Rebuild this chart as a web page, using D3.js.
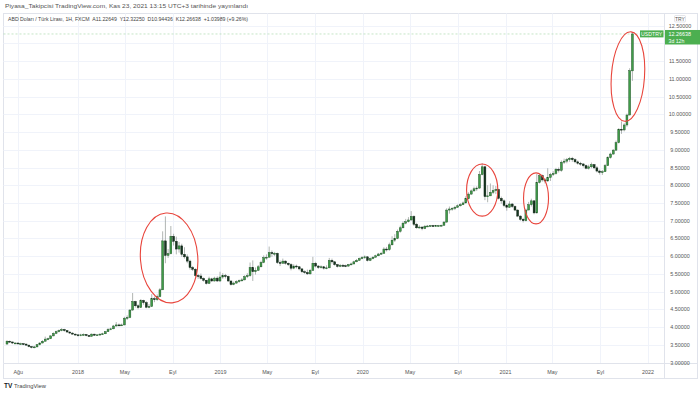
<!DOCTYPE html>
<html><head><meta charset="utf-8">
<script src="https://cdn.jsdelivr.net/npm/d3@7/dist/d3.min.js"></script>
<style>html,body{margin:0;padding:0;background:#fff;}svg{display:block;font-family:"Liberation Sans",Arial,sans-serif;}</style>
</head><body><svg id="c" width="700" height="394"></svg>
<script>
// ---- data (weekly candles, USD/TRY) ----
const startWeek = "2017-07-03";
const firstOpen = 3.52;
const lastOpen = 11.22649;
const closes = [3.60,3.58,3.55,3.55,3.53,3.53,3.52,3.49,3.45,3.43,3.44,3.50,3.55,3.60,3.66,3.67,3.75,3.82,3.87,3.90,3.93,3.90,3.86,3.83,3.80,3.78,
3.76,3.78,3.79,3.76,3.74,3.80,3.77,3.78,3.80,3.81,3.87,3.93,3.95,4.03,4.06,4.05,4.06,4.25,4.27,4.48,4.72,4.60,4.55,4.75,4.69,4.56,4.58,4.80,4.77,4.86,5.05,6.43,6.02,6.07,6.56,6.42,6.20,6.29,6.05,5.98,5.86,5.68,5.63,5.45,5.44,5.37,5.32,5.23,5.36,5.30,5.38,5.30,5.41,
5.45,5.43,5.30,5.20,5.24,5.28,5.31,5.33,5.42,5.45,5.68,5.56,5.60,5.70,5.82,5.96,5.97,6.10,6.07,6.08,5.82,5.80,5.86,5.80,5.76,5.66,5.72,5.70,5.64,5.56,5.54,5.50,5.60,5.80,5.72,5.68,5.70,5.66,5.67,5.88,5.84,5.76,5.71,5.74,5.73,5.72,5.76,5.78,5.84,5.88,5.93,5.96,
5.98,5.88,5.93,5.97,6.01,6.06,6.08,6.20,6.18,6.32,6.45,6.50,6.70,6.80,6.93,6.97,7.02,7.12,6.90,6.80,6.82,6.78,6.84,6.85,6.86,6.85,6.86,6.86,6.87,6.96,7.30,7.33,7.35,7.38,7.42,7.45,7.50,7.62,7.75,7.84,7.90,7.92,8.30,8.52,7.68,7.70,7.80,7.85,7.88,7.63,7.56,7.43,
7.38,7.47,7.40,7.30,7.13,7.04,7.00,7.30,7.45,7.56,7.22,8.08,8.27,8.15,8.12,8.22,8.30,8.33,8.45,8.42,8.65,8.68,8.72,8.76,8.72,8.66,8.62,8.60,8.55,8.48,8.52,8.58,8.49,8.40,8.36,8.38,8.55,8.78,8.88,8.99,9.20,9.58,9.56,9.70,9.98,11.23,12.26638];
const highs = [3.63,3.62,3.58,3.57,3.56,3.56,3.55,3.53,3.50,3.46,3.47,3.52,3.57,3.63,3.73,3.70,3.77,3.85,3.90,3.93,3.97,3.95,3.91,3.88,3.85,3.82,
3.80,3.81,3.82,3.80,3.78,3.82,3.81,3.80,3.82,3.84,3.89,3.97,3.98,4.06,4.14,4.10,4.10,4.29,4.33,4.50,4.96,4.74,4.64,4.79,4.77,4.73,4.65,4.93,4.86,4.92,5.10,6.70,7.12,6.20,6.85,6.63,6.55,6.40,6.35,6.25,6.05,5.90,5.72,5.66,5.50,5.51,5.40,5.33,5.42,5.39,5.42,5.43,5.56,
5.52,5.50,5.45,5.30,5.28,5.32,5.34,5.38,5.46,5.52,5.82,5.88,5.68,5.75,5.87,6.02,6.05,6.27,6.16,6.12,6.10,5.88,5.93,5.88,5.82,5.80,5.77,5.76,5.72,5.66,5.60,5.62,5.64,5.98,5.84,5.75,5.74,5.72,5.74,5.95,5.93,5.86,5.78,5.78,5.78,5.76,5.78,5.82,5.87,5.92,5.96,6.00,
6.02,6.00,5.96,6.00,6.04,6.09,6.12,6.25,6.26,6.38,6.56,6.62,6.75,6.86,6.98,7.05,7.10,7.27,7.15,6.94,6.87,6.84,6.88,6.88,6.88,6.88,6.88,6.88,6.89,6.99,7.35,7.40,7.38,7.42,7.46,7.50,7.54,7.69,7.80,7.88,7.96,7.97,8.40,8.62,8.55,8.00,8.05,8.00,7.98,7.90,7.68,7.60,
7.48,7.55,7.50,7.43,7.32,7.15,7.08,7.34,7.53,7.62,7.58,8.32,8.33,8.30,8.20,8.48,8.35,8.40,8.49,8.50,8.70,8.75,8.77,8.80,8.80,8.76,8.70,8.66,8.62,8.58,8.58,8.64,8.60,8.54,8.44,8.43,8.60,8.82,8.92,9.02,9.26,9.61,9.80,9.75,10.02,11.30,12.32250];
const lows = [3.51,3.55,3.52,3.52,3.51,3.51,3.49,3.47,3.43,3.40,3.40,3.43,3.48,3.54,3.60,3.63,3.66,3.74,3.80,3.85,3.88,3.87,3.84,3.81,3.79,3.76,
3.73,3.74,3.76,3.74,3.72,3.73,3.75,3.75,3.76,3.78,3.80,3.86,3.91,3.94,4.01,4.02,4.03,4.05,4.20,4.25,4.46,4.55,4.50,4.54,4.63,4.53,4.53,4.57,4.70,4.74,4.84,5.05,5.80,5.95,6.05,6.30,6.05,6.10,5.98,5.93,5.80,5.62,5.58,5.40,5.36,5.34,5.28,5.20,5.22,5.27,5.28,5.27,5.27,
5.36,5.37,5.27,5.17,5.18,5.22,5.25,5.28,5.32,5.38,5.42,5.30,5.48,5.58,5.68,5.80,5.90,5.97,5.98,6.00,5.78,5.72,5.79,5.76,5.72,5.60,5.63,5.65,5.60,5.52,5.50,5.47,5.48,5.58,5.68,5.64,5.65,5.62,5.63,5.66,5.79,5.73,5.68,5.69,5.70,5.69,5.70,5.74,5.77,5.83,5.87,5.91,
5.92,5.85,5.86,5.91,5.96,6.00,6.04,6.07,6.13,6.15,6.30,6.40,6.48,6.66,6.78,6.90,6.95,7.00,6.85,6.77,6.78,6.73,6.76,6.82,6.83,6.83,6.84,6.84,6.84,6.86,6.95,7.20,7.28,7.30,7.36,7.40,7.44,7.49,7.60,7.73,7.82,7.84,7.90,8.28,7.58,7.52,7.70,7.75,7.75,7.60,7.48,7.38,
7.28,7.36,7.36,7.27,7.10,7.00,6.95,6.98,7.30,7.40,7.18,7.20,8.05,8.10,8.05,8.10,8.12,8.26,8.30,8.36,8.38,8.60,8.62,8.66,8.66,8.62,8.58,8.55,8.50,8.45,8.44,8.48,8.45,8.36,8.30,8.29,8.40,8.55,8.75,8.86,8.97,9.18,9.45,9.52,9.65,9.98,10.94436];
const yTicks = [3,3.5,4,4.5,5,5.5,6,6.5,7,7.5,8,8.5,9,9.5,10,10.5,11,11.5,12,12.5];
const xTickDates = ["2017-08-01","2018-01-01","2018-05-01","2018-09-01","2019-01-01","2019-05-01","2019-09-01","2020-01-01","2020-05-01","2020-09-01","2021-01-01","2021-05-01","2021-09-01","2022-01-01"];
const xTickLabels = ["Ağu","2018","May","Eyl","2019","May","Eyl","2020","May","Eyl","2021","May","Eyl","2022"];
// hand-drawn highlight ellipses: [from date, to date, low price, high price]
const marks = [
  ["2018-06-10","2018-11-04",4.68,7.22],
  ["2020-09-23","2020-12-12",7.13,8.60],
  ["2021-02-16","2021-04-21",6.91,8.35],
  ["2021-09-29","2021-12-23",9.80,12.33]
];
const headerText = "Piyasa_Takipcisi TradingView.com, Kas 23, 2021 13:15 UTC+3 tarihinde yayınlandı";
const legendText = "ABD Doları / Türk Lirası, 1H, FXCM  A11.22649  Y12.32250  D10.94436  K12.26638  +1.03989 (+9.26%)";
const symbolName = "USDTRY";
const lastPriceText = "12.26638";
const countdownText = "3d 12h";
const currencyText = "TRY";

// ---- layout ----
const svg = d3.select("#c");
const L = 3.5, T = 13.5, R = 664.5, B = 363.5, BB = 378.5, RR = 697.5;
const parse = d3.timeParse("%Y-%m-%d");
const x = d3.scaleTime().domain([parse("2018-01-01"), parse("2022-01-01")]).range([78, 648]);
const y = d3.scaleLinear().domain([3, 12.5]).range([362.5, 25.7]);

const s0 = parse(startWeek);
const candles = closes.map((c, i) => ({
  d: d3.timeWeek.offset(s0, i),
  o: i === 0 ? firstOpen : (i === closes.length - 1 ? lastOpen : closes[i - 1]),
  h: highs[i], l: lows[i], c: c
}));

// header
svg.append("text").attr("x", 5).attr("y", 8).attr("font-size", 6.2).attr("fill", "#555")
  .attr("textLength", 243).attr("lengthAdjust", "spacingAndGlyphs").text(headerText);

// frame
svg.append("rect").attr("x", L).attr("y", T).attr("width", RR - L).attr("height", BB - T)
  .attr("fill", "none").attr("stroke", "#e0e3eb").attr("stroke-width", 1);

const grid = svg.append("g");
yTicks.forEach(v => {
  grid.append("line").attr("x1", L).attr("x2", R).attr("y1", Math.round(y(v)) + 0.5).attr("y2", Math.round(y(v)) + 0.5)
    .attr("stroke", "#f0f3fa").attr("stroke-width", 1);
});
xTickDates.forEach(s => {
  const xx = Math.round(x(parse(s))) + 0.5;
  grid.append("line").attr("x1", xx).attr("x2", xx).attr("y1", T).attr("y2", B).attr("stroke", "#f0f3fa").attr("stroke-width", 1);
});

// axis separators
svg.append("line").attr("x1", R).attr("x2", R).attr("y1", T).attr("y2", BB).attr("stroke", "#e0e3eb");
svg.append("line").attr("x1", L).attr("x2", RR).attr("y1", B).attr("y2", B).attr("stroke", "#e0e3eb");

// legend
svg.append("text").attr("x", 8).attr("y", 20.5).attr("font-size", 5.8).attr("fill", "#444").attr("xml:space","preserve")
  .attr("textLength", 240).attr("lengthAdjust", "spacingAndGlyphs").text(legendText);

// last price dashed line
svg.append("line").attr("x1", L).attr("x2", R).attr("y1", y(closes[closes.length-1])).attr("y2", y(closes[closes.length-1]))
  .attr("stroke", "#9ed3a0").attr("stroke-width", 0.6).attr("stroke-dasharray", "2,2");

// candles
const bw = 1.9;
const cg = svg.append("g");
candles.forEach(k => {
  const cx = x(k.d);
  const up = k.c >= k.o;
  cg.append("line").attr("x1", cx).attr("x2", cx).attr("y1", y(k.h)).attr("y2", y(k.l))
    .attr("stroke", "#8f9692").attr("stroke-width", 0.7);
  const y1 = Math.min(y(k.o), y(k.c)), hgt = Math.max(0.9, Math.abs(y(k.o) - y(k.c)));
  cg.append("rect").attr("x", cx - bw / 2).attr("y", y1).attr("width", bw).attr("height", hgt)
    .attr("fill", up ? "#3f9c48" : "#16351f").attr("stroke", up ? "#1d4f25" : "#0e2314").attr("stroke-width", 0.45);
});

// red highlight ellipses
const eg = svg.append("g");
marks.forEach((m, i) => {
  const x0 = x(parse(m[0])), x1 = x(parse(m[1]));
  const ya = y(m[3]), yb = y(m[2]);
  eg.append("ellipse").attr("cx", (x0 + x1) / 2).attr("cy", (ya + yb) / 2)
    .attr("rx", (x1 - x0) / 2).attr("ry", (yb - ya) / 2)
    .attr("fill", "none").attr("stroke", "#e8453c").attr("stroke-width", 1.1)
    .attr("transform", `rotate(${i === 0 ? -4 : (i === 3 ? 4 : 0)},${(x0 + x1) / 2},${(ya + yb) / 2})`);
});

// y axis labels
yTicks.forEach(v => {
  if (v === 12) return; // hidden behind price label
  svg.append("text").attr("x", 680).attr("y", y(v) + 2).attr("text-anchor", "middle").attr("font-size", 5.4).attr("fill", "#555")
    .text(d3.format(".5f")(v));
});
// currency box
svg.append("rect").attr("x", 674.5).attr("y", 15.5).attr("width", 11).attr("height", 6.5).attr("fill", "#fff").attr("stroke", "#d1d4dc").attr("stroke-width", 0.6).attr("rx", 1);
svg.append("text").attr("x", 680).attr("y", 20.7).attr("text-anchor", "middle").attr("font-size", 5).attr("fill", "#555").text(currencyText);

// symbol + price labels
const ly = y(closes[closes.length-1]);
svg.append("rect").attr("x", 640).attr("y", ly - 3.6).attr("width", 23.5).attr("height", 7).attr("fill", "#4caf50");
svg.append("text").attr("x", 651.7).attr("y", ly + 1.8).attr("text-anchor", "middle").attr("font-size", 5.2).attr("fill", "#fff").text(symbolName);
svg.append("rect").attr("x", 665).attr("y", ly - 4).attr("width", 35).attr("height", 14.5).attr("fill", "#4caf50");
svg.append("text").attr("x", 668.5).attr("y", ly + 1.8).attr("font-size", 5.4).attr("fill", "#fff").text(lastPriceText);
svg.append("text").attr("x", 668.5).attr("y", ly + 8.6).attr("font-size", 5.2).attr("fill", "#fff").text(countdownText);

// x axis labels
xTickDates.forEach((s, i) => {
  svg.append("text").attr("x", x(parse(s))).attr("y", 374).attr("text-anchor", "middle").attr("font-size", 5.4).attr("fill", "#555").text(xTickLabels[i]);
});

// TradingView footer
svg.append("text").attr("x", 4).attr("y", 388).attr("font-size", 6.5).attr("font-weight", "bold").attr("fill", "#131722").text("TV");
svg.append("text").attr("x", 14).attr("y", 388).attr("font-size", 5.8).attr("fill", "#444").text("TradingView");
</script></body></html>
